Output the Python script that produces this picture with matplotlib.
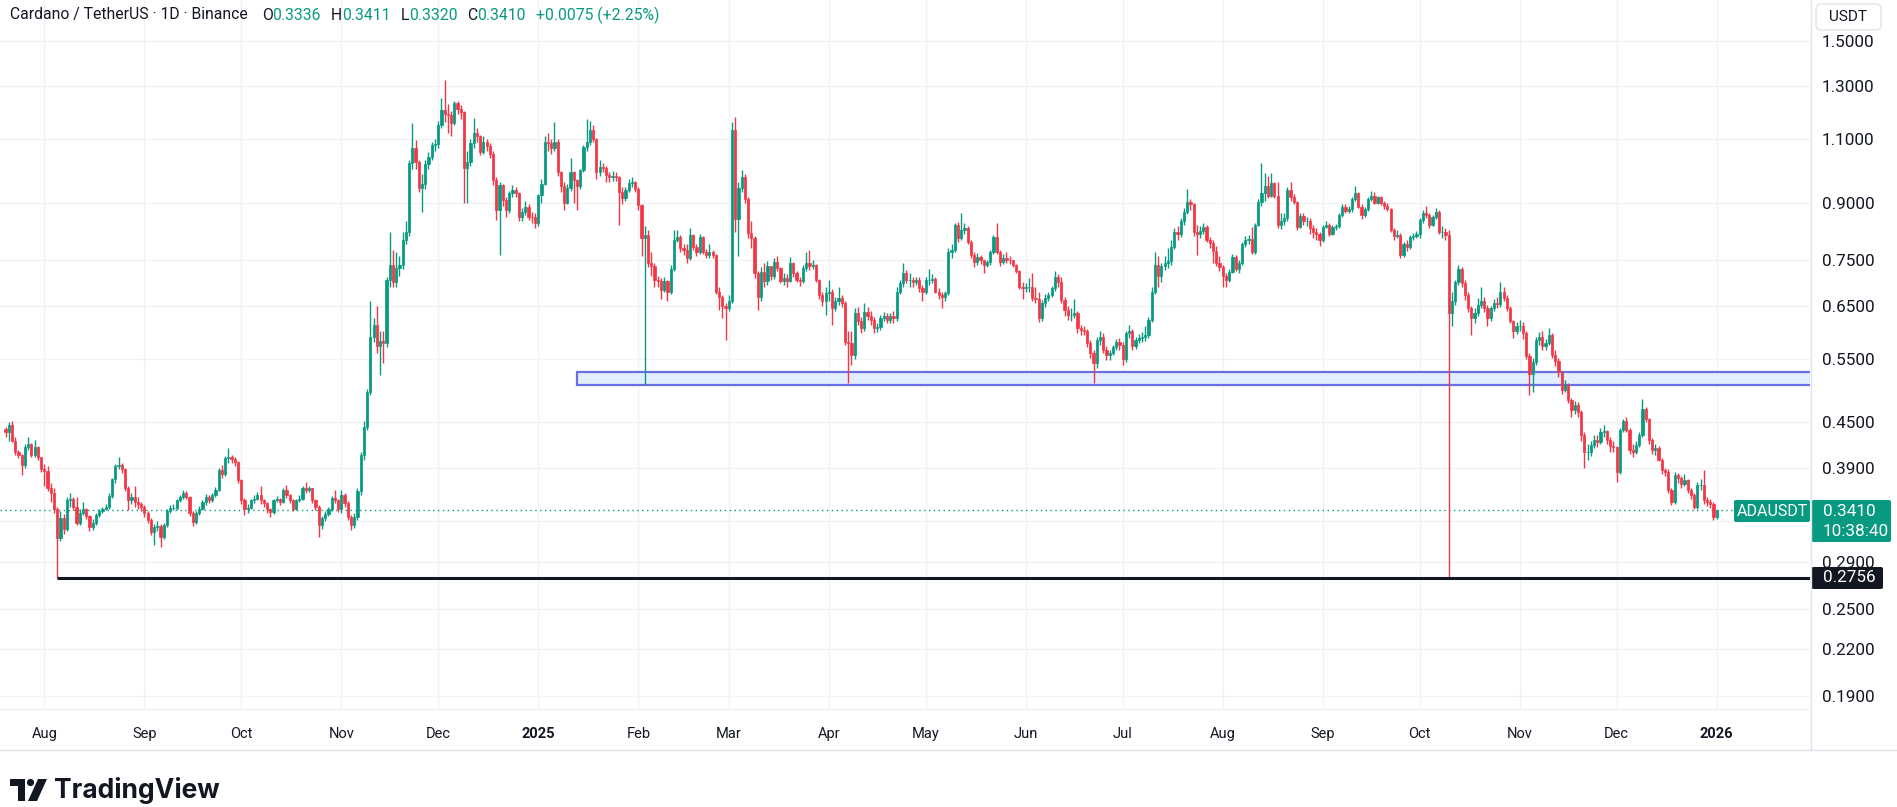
import datetime as dt
import matplotlib
matplotlib.use("Agg")
import matplotlib.pyplot as plt
import matplotlib.dates as mdates
from matplotlib.patches import Rectangle, FancyBboxPatch, Polygon, Circle
from matplotlib.transforms import IdentityTransform
from matplotlib.ticker import FixedLocator, NullLocator, FuncFormatter

W, H = 1897, 807
FONT = ["Roboto", "DejaVu Sans"]
UP, DOWN, DARK = "#089981", "#f23645", "#131722"

# daily candles ADA/USDT, Binance, first day 2024-07-20
first_day = dt.date(2024, 7, 20)
first_open = 0.441

closes = [
    # 2024-07
    0.437, 0.447, 0.425, 0.410, 0.406, 0.394, 0.417, 0.420, 0.406, 0.417, 0.403, 0.388,
    # 2024-08
    0.386, 0.366, 0.360, 0.342, 0.313, 0.333, 0.322, 0.352, 0.354, 0.345, 0.328, 0.338, 0.342, 0.335, 0.324, 0.328,
    0.336, 0.340, 0.342, 0.345, 0.357, 0.376, 0.392, 0.394, 0.388, 0.366, 0.352, 0.356, 0.350, 0.348, 0.345,
    # 2024-09
    0.338, 0.331, 0.319, 0.324, 0.325, 0.314, 0.326, 0.340, 0.344, 0.344, 0.352, 0.356, 0.360, 0.356, 0.338,
    0.329, 0.338, 0.343, 0.350, 0.356, 0.352, 0.358, 0.364, 0.387, 0.382, 0.402, 0.403, 0.401, 0.397, 0.375,
    # 2024-10
    0.352, 0.342, 0.344, 0.352, 0.354, 0.358, 0.352, 0.349, 0.342, 0.339, 0.352, 0.354, 0.350, 0.364, 0.358, 0.352,
    0.342, 0.352, 0.354, 0.366, 0.364, 0.366, 0.352, 0.345, 0.326, 0.333, 0.337, 0.342, 0.355, 0.352, 0.342,
    # 2024-11
    0.358, 0.349, 0.334, 0.326, 0.334, 0.362, 0.406, 0.444, 0.496, 0.590, 0.612, 0.572, 0.581, 0.578, 0.705,
    0.739, 0.701, 0.732, 0.739, 0.800, 0.821, 1.020, 1.068, 1.024, 0.941, 0.955, 1.018, 1.040, 1.078, 1.083,
    # 2024-12
    1.150, 1.205, 1.190, 1.186, 1.156, 1.231, 1.210, 1.198, 1.003, 1.024, 1.085, 1.120, 1.110, 1.057, 1.090, 1.075,
    1.050, 0.967, 0.879, 0.950, 0.908, 0.879, 0.927, 0.937, 0.927, 0.861, 0.874, 0.888, 0.861, 0.860, 0.843,
    # 2025-01
    0.922, 0.955, 1.091, 1.085, 1.070, 1.091, 0.990, 0.947, 0.900, 0.942, 0.992, 0.967, 0.947, 0.996, 1.074, 1.091,
    1.130, 1.100, 0.992, 1.008, 1.003, 0.982, 0.977, 0.980, 0.975, 0.932, 0.912, 0.937, 0.957, 0.960, 0.940,
    # 2025-02
    0.893, 0.804, 0.813, 0.743, 0.736, 0.706, 0.702, 0.684, 0.702, 0.680, 0.730, 0.800, 0.808, 0.779,
    0.775, 0.756, 0.813, 0.783, 0.771, 0.808, 0.771, 0.763, 0.770, 0.763, 0.680, 0.669, 0.649, 0.645,
    # 2025-03
    0.659, 1.130, 0.856, 0.942, 0.977, 0.910, 0.817, 0.804, 0.720, 0.669, 0.724, 0.702, 0.736, 0.713, 0.747, 0.732,
    0.702, 0.710, 0.702, 0.743, 0.720, 0.706, 0.702, 0.732, 0.743, 0.736, 0.740, 0.705, 0.672, 0.659, 0.676,
    # 2025-04
    0.680, 0.645, 0.660, 0.666, 0.655, 0.580, 0.578, 0.557, 0.635, 0.620, 0.606, 0.638, 0.630, 0.622, 0.606,
    0.608, 0.625, 0.630, 0.622, 0.630, 0.625, 0.680, 0.698, 0.720, 0.705, 0.705, 0.700, 0.705, 0.687, 0.680,
    # 2025-05
    0.705, 0.705, 0.708, 0.680, 0.672, 0.668, 0.676, 0.771, 0.775, 0.838, 0.804, 0.826, 0.830, 0.796, 0.763, 0.747,
    0.759, 0.750, 0.740, 0.747, 0.771, 0.808, 0.771, 0.747, 0.755, 0.752, 0.750, 0.740, 0.725, 0.690, 0.687,
    # 2025-06
    0.690, 0.690, 0.666, 0.664, 0.625, 0.655, 0.666, 0.672, 0.687, 0.712, 0.700, 0.662, 0.642, 0.632, 0.632,
    0.635, 0.606, 0.603, 0.600, 0.578, 0.560, 0.542, 0.584, 0.590, 0.566, 0.556, 0.560, 0.570, 0.580, 0.575,
    # 2025-07
    0.550, 0.596, 0.600, 0.572, 0.584, 0.587, 0.590, 0.592, 0.622, 0.680, 0.740, 0.713, 0.736, 0.745, 0.748, 0.783,
    0.821, 0.815, 0.850, 0.875, 0.903, 0.895, 0.821, 0.815, 0.823, 0.834, 0.800, 0.792, 0.773, 0.745, 0.735,
    # 2025-08
    0.713, 0.705, 0.724, 0.759, 0.730, 0.745, 0.790, 0.800, 0.803, 0.770, 0.840, 0.903, 0.927, 0.947, 0.920, 0.957,
    0.920, 0.840, 0.850, 0.857, 0.937, 0.917, 0.903, 0.834, 0.864, 0.848, 0.850, 0.830, 0.821, 0.815, 0.800,
    # 2025-09
    0.834, 0.840, 0.815, 0.834, 0.836, 0.865, 0.889, 0.876, 0.882, 0.910, 0.927, 0.889, 0.865, 0.882, 0.910,
    0.920, 0.900, 0.915, 0.898, 0.890, 0.882, 0.826, 0.810, 0.813, 0.763, 0.790, 0.782, 0.807, 0.810, 0.815,
    # 2025-10
    0.852, 0.870, 0.866, 0.839, 0.860, 0.874, 0.820, 0.820, 0.813, 0.635, 0.660, 0.700, 0.730, 0.698, 0.672, 0.645,
    0.625, 0.635, 0.652, 0.660, 0.645, 0.625, 0.645, 0.655, 0.653, 0.680, 0.666, 0.645, 0.620, 0.600, 0.610,
    # 2025-11
    0.610, 0.596, 0.555, 0.525, 0.545, 0.584, 0.590, 0.573, 0.578, 0.593, 0.557, 0.547, 0.528, 0.499, 0.507,
    0.483, 0.468, 0.476, 0.465, 0.433, 0.410, 0.410, 0.419, 0.426, 0.423, 0.437, 0.438, 0.426, 0.418, 0.416,
    # 2025-12
    0.385, 0.440, 0.452, 0.440, 0.413, 0.410, 0.419, 0.433, 0.470, 0.455, 0.426, 0.413, 0.415, 0.400, 0.387, 0.385,
    0.364, 0.350, 0.381, 0.378, 0.371, 0.375, 0.364, 0.358, 0.345, 0.370, 0.370, 0.352, 0.350, 0.348, 0.3336,
    # 2026-01
    0.3410,
]

highs = [
    0.443, 0.450, 0.452, 0.430, 0.412, 0.408, 0.420, 0.430, 0.422, 0.426, 0.418, 0.404,
    0.395, 0.392, 0.372, 0.366, 0.345, 0.340, 0.337, 0.356, 0.360, 0.356, 0.356, 0.342, 0.350, 0.344, 0.336, 0.332,
    0.338, 0.343, 0.345, 0.348, 0.360, 0.378, 0.395, 0.404, 0.396, 0.390, 0.368, 0.360, 0.368, 0.356, 0.350,
    0.347, 0.340, 0.333, 0.327, 0.330, 0.327, 0.328, 0.342, 0.347, 0.348, 0.354, 0.358, 0.364, 0.362, 0.357,
    0.340, 0.340, 0.346, 0.352, 0.359, 0.358, 0.360, 0.367, 0.390, 0.393, 0.405, 0.415, 0.406, 0.403, 0.398,
    0.377, 0.355, 0.348, 0.354, 0.358, 0.361, 0.368, 0.354, 0.350, 0.344, 0.354, 0.357, 0.355, 0.366, 0.370, 0.359,
    0.353, 0.354, 0.358, 0.368, 0.373, 0.368, 0.366, 0.354, 0.347, 0.335, 0.340, 0.345, 0.357, 0.364, 0.353,
    0.364, 0.360, 0.351, 0.336, 0.338, 0.366, 0.410, 0.452, 0.500, 0.660, 0.625, 0.650, 0.600, 0.600, 0.712,
    0.820, 0.776, 0.770, 0.760, 0.820, 0.850, 1.030, 1.156, 1.096, 1.030, 0.985, 1.030, 1.055, 1.090, 1.100,
    1.165, 1.250, 1.325, 1.230, 1.200, 1.240, 1.240, 1.225, 1.200, 1.060, 1.100, 1.175, 1.140, 1.115, 1.110, 1.100,
    1.085, 1.060, 0.975, 0.960, 0.955, 0.915, 0.935, 0.950, 0.945, 0.930, 0.885, 0.905, 0.895, 0.875, 0.870,
    0.925, 0.970, 1.110, 1.120, 1.100, 1.160, 1.100, 0.995, 0.960, 0.955, 1.035, 0.995, 0.970, 1.000, 1.080, 1.170,
    1.165, 1.150, 1.105, 1.030, 1.020, 1.010, 0.990, 0.995, 0.990, 0.980, 0.945, 0.945, 0.970, 0.975, 0.965,
    0.945, 0.895, 0.835, 0.825, 0.770, 0.745, 0.715, 0.710, 0.712, 0.705, 0.740, 0.826, 0.826, 0.812,
    0.790, 0.790, 0.830, 0.815, 0.790, 0.815, 0.810, 0.778, 0.790, 0.775, 0.766, 0.690, 0.672, 0.655,
    0.672, 1.160, 1.180, 0.960, 0.998, 0.985, 0.915, 0.850, 0.810, 0.725, 0.735, 0.745, 0.748, 0.738, 0.755, 0.760,
    0.735, 0.720, 0.718, 0.758, 0.746, 0.726, 0.712, 0.740, 0.770, 0.776, 0.752, 0.742, 0.708, 0.680, 0.690,
    0.705, 0.685, 0.668, 0.690, 0.672, 0.660, 0.600, 0.600, 0.645, 0.648, 0.628, 0.655, 0.648, 0.640, 0.628,
    0.615, 0.632, 0.638, 0.636, 0.636, 0.640, 0.690, 0.706, 0.745, 0.728, 0.720, 0.712, 0.712, 0.712, 0.695,
    0.712, 0.730, 0.718, 0.712, 0.688, 0.680, 0.682, 0.780, 0.790, 0.845, 0.846, 0.870, 0.845, 0.835, 0.800, 0.770,
    0.768, 0.762, 0.752, 0.752, 0.775, 0.812, 0.845, 0.775, 0.765, 0.770, 0.760, 0.752, 0.742, 0.728, 0.700,
    0.698, 0.710, 0.720, 0.690, 0.680, 0.662, 0.675, 0.680, 0.692, 0.725, 0.718, 0.712, 0.668, 0.650, 0.645,
    0.665, 0.640, 0.612, 0.610, 0.604, 0.584, 0.565, 0.590, 0.600, 0.596, 0.572, 0.566, 0.574, 0.586, 0.588,
    0.580, 0.600, 0.612, 0.604, 0.590, 0.595, 0.598, 0.610, 0.628, 0.690, 0.770, 0.760, 0.745, 0.760, 0.780, 0.800,
    0.830, 0.835, 0.858, 0.885, 0.940, 0.910, 0.900, 0.840, 0.835, 0.845, 0.840, 0.808, 0.800, 0.785, 0.760,
    0.740, 0.722, 0.730, 0.765, 0.762, 0.750, 0.795, 0.810, 0.812, 0.834, 0.845, 0.910, 1.019, 0.987, 0.980, 0.987,
    0.960, 0.960, 0.870, 0.870, 0.945, 0.960, 0.925, 0.905, 0.870, 0.870, 0.860, 0.858, 0.838, 0.830, 0.820,
    0.840, 0.850, 0.845, 0.840, 0.842, 0.870, 0.895, 0.895, 0.890, 0.915, 0.947, 0.930, 0.895, 0.888, 0.915,
    0.935, 0.930, 0.920, 0.918, 0.905, 0.900, 0.885, 0.830, 0.825, 0.818, 0.795, 0.800, 0.812, 0.818, 0.822,
    0.858, 0.880, 0.890, 0.870, 0.865, 0.884, 0.878, 0.835, 0.830, 0.825, 0.680, 0.705, 0.740, 0.735, 0.705, 0.680,
    0.650, 0.645, 0.666, 0.690, 0.668, 0.652, 0.650, 0.665, 0.668, 0.700, 0.690, 0.672, 0.650, 0.622, 0.618,
    0.622, 0.618, 0.600, 0.560, 0.552, 0.590, 0.598, 0.600, 0.585, 0.606, 0.596, 0.565, 0.552, 0.530, 0.515,
    0.510, 0.486, 0.482, 0.480, 0.468, 0.436, 0.420, 0.425, 0.432, 0.432, 0.442, 0.446, 0.440, 0.430, 0.424,
    0.418, 0.442, 0.455, 0.458, 0.442, 0.420, 0.424, 0.436, 0.484, 0.472, 0.456, 0.428, 0.420, 0.418, 0.402, 0.390,
    0.388, 0.366, 0.385, 0.384, 0.380, 0.382, 0.376, 0.366, 0.360, 0.373, 0.376, 0.387, 0.356, 0.353, 0.350,
    0.3411,
]

lows = [
    0.430, 0.425, 0.423, 0.406, 0.402, 0.381, 0.390, 0.412, 0.403, 0.404, 0.400, 0.385,
    0.368, 0.362, 0.350, 0.338, 0.2756, 0.310, 0.317, 0.320, 0.345, 0.341, 0.326, 0.326, 0.336, 0.332, 0.320, 0.321,
    0.326, 0.334, 0.338, 0.341, 0.343, 0.355, 0.372, 0.388, 0.384, 0.362, 0.341, 0.348, 0.345, 0.343, 0.340,
    0.334, 0.328, 0.316, 0.306, 0.320, 0.304, 0.312, 0.324, 0.338, 0.341, 0.341, 0.350, 0.354, 0.353, 0.335,
    0.325, 0.327, 0.336, 0.341, 0.347, 0.349, 0.350, 0.356, 0.362, 0.378, 0.380, 0.396, 0.396, 0.392, 0.372,
    0.348, 0.336, 0.338, 0.342, 0.349, 0.352, 0.348, 0.345, 0.338, 0.334, 0.337, 0.350, 0.347, 0.349, 0.355, 0.349,
    0.340, 0.341, 0.350, 0.352, 0.360, 0.361, 0.349, 0.341, 0.314, 0.322, 0.330, 0.335, 0.340, 0.349, 0.339,
    0.338, 0.345, 0.331, 0.321, 0.323, 0.331, 0.358, 0.400, 0.440, 0.490, 0.580, 0.560, 0.523, 0.543, 0.570,
    0.690, 0.690, 0.690, 0.715, 0.730, 0.790, 0.810, 1.000, 1.000, 0.932, 0.875, 0.940, 1.000, 1.030, 1.060,
    1.070, 1.140, 1.160, 1.120, 1.110, 1.150, 1.190, 1.170, 0.900, 0.900, 1.010, 1.070, 1.090, 1.045, 1.050, 1.060,
    1.035, 0.950, 0.852, 0.763, 0.890, 0.860, 0.870, 0.915, 0.915, 0.850, 0.850, 0.865, 0.852, 0.845, 0.830,
    0.835, 0.900, 0.950, 1.060, 1.050, 1.060, 0.980, 0.930, 0.880, 0.895, 0.935, 0.900, 0.880, 0.940, 0.990, 1.060,
    1.080, 1.090, 0.970, 0.980, 0.990, 0.960, 0.960, 0.965, 0.965, 0.840, 0.895, 0.905, 0.930, 0.945, 0.930,
    0.880, 0.760, 0.506, 0.735, 0.715, 0.690, 0.690, 0.664, 0.680, 0.660, 0.675, 0.725, 0.795, 0.770,
    0.762, 0.745, 0.750, 0.775, 0.760, 0.765, 0.765, 0.755, 0.755, 0.755, 0.675, 0.641, 0.625, 0.584,
    0.640, 0.655, 0.820, 0.760, 0.930, 0.900, 0.805, 0.780, 0.710, 0.642, 0.660, 0.690, 0.695, 0.705, 0.708, 0.725,
    0.698, 0.695, 0.690, 0.700, 0.712, 0.700, 0.692, 0.698, 0.725, 0.728, 0.730, 0.700, 0.665, 0.650, 0.632,
    0.660, 0.612, 0.640, 0.652, 0.648, 0.575, 0.510, 0.540, 0.550, 0.612, 0.596, 0.600, 0.622, 0.612, 0.596,
    0.598, 0.603, 0.620, 0.615, 0.615, 0.615, 0.620, 0.674, 0.690, 0.698, 0.690, 0.690, 0.695, 0.680, 0.660,
    0.675, 0.695, 0.698, 0.676, 0.665, 0.645, 0.660, 0.672, 0.755, 0.770, 0.795, 0.800, 0.815, 0.790, 0.755, 0.735,
    0.740, 0.742, 0.720, 0.735, 0.740, 0.765, 0.765, 0.738, 0.742, 0.745, 0.742, 0.735, 0.720, 0.685, 0.665,
    0.680, 0.678, 0.660, 0.655, 0.618, 0.620, 0.648, 0.660, 0.668, 0.682, 0.690, 0.655, 0.630, 0.622, 0.620,
    0.625, 0.596, 0.592, 0.592, 0.570, 0.552, 0.510, 0.535, 0.575, 0.560, 0.548, 0.548, 0.556, 0.565, 0.566,
    0.540, 0.545, 0.588, 0.566, 0.568, 0.578, 0.580, 0.582, 0.588, 0.618, 0.675, 0.690, 0.700, 0.728, 0.733, 0.740,
    0.778, 0.800, 0.808, 0.840, 0.868, 0.880, 0.810, 0.762, 0.805, 0.815, 0.795, 0.780, 0.745, 0.738, 0.725,
    0.690, 0.690, 0.700, 0.720, 0.725, 0.722, 0.740, 0.782, 0.790, 0.765, 0.765, 0.835, 0.890, 0.905, 0.912, 0.915,
    0.912, 0.832, 0.828, 0.840, 0.850, 0.905, 0.895, 0.825, 0.830, 0.840, 0.835, 0.815, 0.805, 0.800, 0.785,
    0.795, 0.830, 0.810, 0.812, 0.825, 0.832, 0.860, 0.870, 0.870, 0.875, 0.905, 0.885, 0.855, 0.860, 0.876,
    0.905, 0.895, 0.895, 0.892, 0.882, 0.876, 0.820, 0.800, 0.805, 0.755, 0.758, 0.772, 0.778, 0.800, 0.805,
    0.805, 0.845, 0.858, 0.832, 0.835, 0.855, 0.815, 0.805, 0.800, 0.2745, 0.610, 0.652, 0.695, 0.690, 0.662, 0.638,
    0.593, 0.615, 0.630, 0.645, 0.638, 0.610, 0.620, 0.640, 0.645, 0.648, 0.660, 0.640, 0.615, 0.587, 0.595,
    0.600, 0.585, 0.550, 0.490, 0.495, 0.540, 0.575, 0.566, 0.565, 0.575, 0.552, 0.538, 0.520, 0.492, 0.495,
    0.478, 0.458, 0.462, 0.458, 0.425, 0.390, 0.400, 0.405, 0.415, 0.416, 0.420, 0.430, 0.420, 0.410, 0.410,
    0.373, 0.382, 0.436, 0.436, 0.408, 0.404, 0.408, 0.416, 0.430, 0.450, 0.420, 0.408, 0.406, 0.398, 0.383, 0.380,
    0.360, 0.347, 0.348, 0.372, 0.366, 0.368, 0.360, 0.354, 0.342, 0.343, 0.364, 0.348, 0.346, 0.344, 0.331,
    0.3320,
]

# drawings on the chart
zone_from = dt.date(2025, 1, 13)
zone_low, zone_high = 0.506, 0.528
support_from = dt.date(2024, 8, 5)
support = 0.2756
last_price = 0.3410

price_ticks = [1.5, 1.3, 1.1, 0.9, 0.75, 0.65, 0.55, 0.45, 0.39, 0.33, 0.29, 0.25, 0.22, 0.19]
hidden_ticks = [0.33]  # sits under the last price label
month_ticks = [dt.date(2024, m, 1) for m in range(8, 13)] + \
              [dt.date(2025, m, 1) for m in range(1, 13)] + [dt.date(2026, 1, 1)]

header_parts = [("Cardano / TetherUS · 1D · Binance", DARK, 14),
                ("O", DARK, 0), ("0.3336", UP, 10), ("H", DARK, 0), ("0.3411", UP, 10),
                ("L", DARK, 0), ("0.3320", UP, 10), ("C", DARK, 0), ("0.3410", UP, 10),
                ("+0.0075 (+2.25%)", UP, 0)]


def px_box(x0, y0, x1, y1, **kw):
    return FancyBboxPatch((x0, H - y1), x1 - x0, y1 - y0, transform=IdentityTransform(), **kw)


def price_label(v, pos):
    if any(abs(v - h) < 1e-9 for h in hidden_ticks):
        return ""
    return "%.4f" % v


def main():
    n = len(closes)
    dates = [first_day + dt.timedelta(days=k) for k in range(n)]
    xs = mdates.date2num(dates)
    opens = [first_open] + closes[:-1]
    colors = [UP if c >= o else DOWN for o, c in zip(opens, closes)]
    bottoms = [min(o, c) for o, c in zip(opens, closes)]
    heights = [abs(c - o) for o, c in zip(opens, closes)]

    fig = plt.figure(figsize=(W / 100, H / 100), dpi=100)
    fig.patch.set_facecolor("white")
    ax = fig.add_axes([0, 1 - 709 / H, 1810 / W, 709 / H])
    x0 = mdates.date2num(first_day)
    ax.set_xlim(x0 - 1.72, x0 + 558.9)
    ax.set_yscale("log")
    ax.set_ylim(0.1823, 1.705)

    ax.vlines(xs, lows, highs, colors=colors, linewidth=1.0, zorder=3)
    ax.bar(xs, heights, width=0.68, bottom=bottoms, color=colors, edgecolor=colors,
           linewidth=0.5, zorder=4)

    zx = mdates.date2num(zone_from)
    ax.add_patch(Rectangle((zx, zone_low), x0 + 600 - zx, zone_high - zone_low,
                           facecolor="#e3eefd", edgecolor="#6b6ee6", linewidth=1.6, zorder=2))
    ax.hlines(support, mdates.date2num(support_from), x0 + 600, color=DARK, linewidth=2.2, zorder=5)
    ax.axhline(last_price, color=UP, linewidth=1.0, linestyle=(0, (1, 2.5)), zorder=2)

    ax.yaxis.set_major_locator(FixedLocator(price_ticks))
    ax.yaxis.set_minor_locator(NullLocator())
    ax.yaxis.set_major_formatter(FuncFormatter(price_label))
    ax.yaxis.tick_right()
    ax.tick_params(axis="y", length=0, pad=8.5, labelsize=12.3, labelcolor=DARK)
    ax.set_xticks(mdates.date2num(month_ticks))
    ax.set_xticklabels([str(d.year) if d.month == 1 else d.strftime("%b") for d in month_ticks])
    ax.tick_params(axis="x", length=0, pad=13, labelsize=10.5, labelcolor=DARK)
    ax.xaxis.set_minor_locator(NullLocator())
    for lab in ax.get_xticklabels() + ax.get_yticklabels():
        lab.set_family(FONT)
    for lab, d in zip(ax.get_xticklabels(), month_ticks):
        if d.month == 1:
            lab.set_fontweight("bold")
    ax.grid(True, color="#f0f2f5", linewidth=1.0, zorder=0)
    ax.set_axisbelow(True)
    for s in ax.spines.values():
        s.set_visible(False)

    # frame lines of the chart pane
    fig.add_artist(plt.Line2D([1810.5, 1810.5], [H - 750, H], transform=IdentityTransform(),
                              color="#e0e3eb", linewidth=1))
    fig.add_artist(plt.Line2D([0, W], [H - 750, H - 750], transform=IdentityTransform(),
                              color="#e0e3eb", linewidth=1))
    fig.add_artist(plt.Line2D([0, 1810], [H - 709, H - 709], transform=IdentityTransform(),
                              color="#f0f2f5", linewidth=1))

    # header legend
    r = fig.canvas.get_renderer()
    x = 10
    for text, col, gap in header_parts:
        t = fig.text(x / W, 1 - 15 / H, text, color=col, fontsize=11.3, va="center", ha="left", family=FONT)
        x = t.get_window_extent(renderer=r).x1 + gap

    # USDT badge
    fig.add_artist(px_box(1816, 4, 1881, 30, boxstyle="round,pad=0,rounding_size=5",
                          facecolor="white", edgecolor="#e0e3eb", linewidth=1))
    fig.text(1848.5 / W, 1 - 17 / H, "USDT", color=DARK, fontsize=11, ha="center", va="center", family=FONT)

    # last price labels
    fig.add_artist(px_box(1734, 500, 1810, 522, boxstyle="round,pad=0,rounding_size=2",
                          facecolor=UP, edgecolor=UP, linewidth=0))
    fig.text(1772 / W, 1 - 511.5 / H, "ADAUSDT", color="white", fontsize=11.5, ha="center", va="center",
             family=FONT)
    fig.add_artist(px_box(1811.5, 500, 1891, 542, boxstyle="round,pad=0,rounding_size=2",
                          facecolor=UP, edgecolor=UP, linewidth=0))
    fig.text(1823 / W, 1 - 511.5 / H, "%.4f" % last_price, color="white", fontsize=12.3, ha="left",
             va="center", family=FONT)
    fig.text(1823 / W, 1 - 531 / H, "10:38:40", color="white", fontsize=12.3, ha="left", va="center",
             family=FONT)
    fig.add_artist(px_box(1811.5, 567, 1883, 589, boxstyle="round,pad=0,rounding_size=2",
                          facecolor=DARK, edgecolor=DARK, linewidth=0))
    fig.text(1823 / W, 1 - 578 / H, "%.4f" % support, color="white", fontsize=12.3, ha="left",
             va="center", family=FONT)

    # TradingView logo
    tr = IdentityTransform()
    fig.add_artist(Polygon([(10, H - 779), (25, H - 779), (25, H - 801), (18, H - 801), (18, H - 786),
                            (10, H - 786)], closed=True, transform=tr, facecolor=DARK, edgecolor="none"))
    fig.add_artist(Circle((30.5, H - 782.5), 3.6, transform=tr, facecolor=DARK, edgecolor="none"))
    fig.add_artist(Polygon([(38, H - 779), (47, H - 779), (37, H - 801), (28, H - 801)], closed=True,
                           transform=tr, facecolor=DARK, edgecolor="none"))
    fig.text(54 / W, 1 - 790 / H, "TradingView", color=DARK, fontsize=19, fontweight="bold",
             ha="left", va="center", family=["Inter", "DejaVu Sans"])

    fig.savefig("out.png", dpi=100, facecolor="white")


if __name__ == "__main__":
    main()
